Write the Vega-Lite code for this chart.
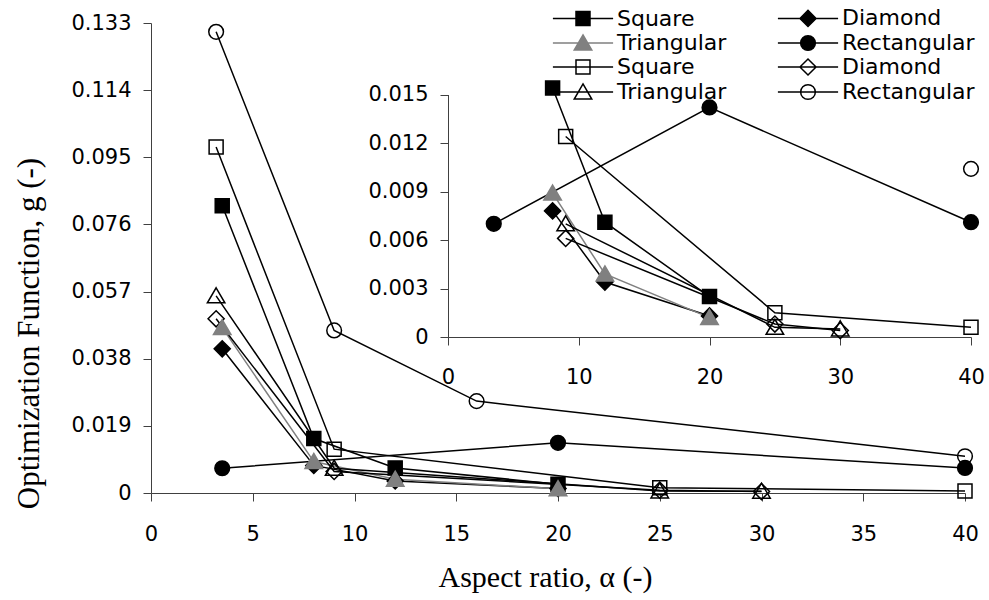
{
  "$schema": "https://vega.github.io/schema/vega-lite/v6.json",
  "width": 814,
  "height": 470,
  "autosize": {"type": "none"},
  "padding": {"left": 151, "top": 23, "right": 24, "bottom": 107},
  "background": "white",
  "config": {
    "view": {"stroke": null},
    "axis": {
      "grid": false,
      "domainColor": "#404040",
      "tickColor": "#404040",
      "tickSize": 8,
      "domainWidth": 1,
      "tickWidth": 1,
      "labelFont": "DejaVu Sans",
      "labelFontSize": 21,
      "labelColor": "black",
      "titleFont": "Liberation Serif",
      "titleFontWeight": "normal",
      "titleColor": "black",
      "labelOverlap": false,
      "labelFlush": false,
      "labelBound": false
    }
  },
  "data": {
    "values": [
      {"s": "fSquare", "a": 3.5, "g": 0.0813},
      {"s": "fSquare", "a": 8, "g": 0.0154},
      {"s": "fSquare", "a": 12, "g": 0.0071},
      {"s": "fSquare", "a": 20, "g": 0.0025},
      {"s": "fDiamond", "a": 3.5, "g": 0.0408},
      {"s": "fDiamond", "a": 8, "g": 0.0078},
      {"s": "fDiamond", "a": 12, "g": 0.0034},
      {"s": "fDiamond", "a": 20, "g": 0.0013},
      {"s": "fTriangular", "a": 3.5, "g": 0.0468},
      {"s": "fTriangular", "a": 8, "g": 0.0089},
      {"s": "fTriangular", "a": 12, "g": 0.0039},
      {"s": "fTriangular", "a": 20, "g": 0.0012},
      {"s": "fRectangular", "a": 3.5, "g": 0.0070},
      {"s": "fRectangular", "a": 20, "g": 0.0142},
      {"s": "fRectangular", "a": 40, "g": 0.0071},
      {"s": "oSquare", "a": 3.2, "g": 0.0979},
      {"s": "oSquare", "a": 9, "g": 0.0124},
      {"s": "oSquare", "a": 25, "g": 0.0015},
      {"s": "oSquare", "a": 40, "g": 0.0006},
      {"s": "oDiamond", "a": 3.2, "g": 0.0493},
      {"s": "oDiamond", "a": 9, "g": 0.0061},
      {"s": "oDiamond", "a": 25, "g": 0.0008},
      {"s": "oDiamond", "a": 30, "g": 0.0004},
      {"s": "oTriangular", "a": 3.2, "g": 0.0558},
      {"s": "oTriangular", "a": 9, "g": 0.0070},
      {"s": "oTriangular", "a": 25, "g": 0.0006},
      {"s": "oTriangular", "a": 30, "g": 0.0005},
      {"s": "oRectangular", "a": 3.2, "g": 0.1305},
      {"s": "oRectangular", "a": 9, "g": 0.0460},
      {"s": "oRectangular", "a": 16, "g": 0.0260},
      {"s": "oRectangular", "a": 40, "g": 0.0104}
    ]
  },
  "layer": [
    {
      "encoding": {
        "x": {
          "field": "a", "type": "quantitative",
          "scale": {"domain": [0, 40], "nice": false, "zero": false},
          "axis": {"orient": "bottom", "values": [0, 5, 10, 15, 20, 25, 30, 35, 40], "labelPadding": 22, "title": "Aspect ratio, α (-)", "titleFontSize": 30, "titlePadding": 18, "titleX": 394}
        },
        "y": {
          "field": "g", "type": "quantitative",
          "scale": {"domain": [0, 0.133], "nice": false, "zero": false},
          "axis": {"orient": "left", "values": [0, 0.019, 0.038, 0.057, 0.076, 0.095, 0.114, 0.133], "format": ".3~f", "labelPadding": 12, "title": "Optimization Function, g (-)", "titleFontSize": 31, "titlePadding": 25, "titleY": 310}
        }
      },
      "layer": [
        {
          "mark": {"type": "line", "strokeWidth": 1.5},
          "encoding": {
            "detail": {"field": "s", "type": "nominal"},
            "stroke": {"field": "s", "type": "nominal", "scale": {"domain": ["fSquare", "fDiamond", "fTriangular", "fRectangular", "oSquare", "oDiamond", "oTriangular", "oRectangular"], "range": ["black", "black", "#808080", "black", "black", "black", "black", "black"]}}
          }
        },
        {
          "transform": [{"filter": {"field": "s", "oneOf": ["fSquare", "oSquare"]}}],
          "mark": {"type": "point", "shape": "M-1,-1H1V1H-1Z", "size": 196, "strokeWidth": 1.5, "opacity": 1},
          "encoding": {
            "fill": {"field": "s", "type": "nominal", "scale": {"domain": ["fSquare", "fDiamond", "fTriangular", "fRectangular", "oSquare", "oDiamond", "oTriangular", "oRectangular"], "range": ["black", "black", "#808080", "black", "transparent", "transparent", "transparent", "transparent"]}},
            "stroke": {"field": "s", "type": "nominal"}
          }
        },
        {
          "transform": [{"filter": {"field": "s", "oneOf": ["fDiamond", "oDiamond"]}}],
          "mark": {"type": "point", "shape": "M-1.15,0L0,-1.15L1.15,0L0,1.15Z", "size": 196, "strokeWidth": 1.5, "opacity": 1},
          "encoding": {
            "fill": {"field": "s", "type": "nominal"},
            "stroke": {"field": "s", "type": "nominal"}
          }
        },
        {
          "transform": [{"filter": {"field": "s", "oneOf": ["fTriangular", "oTriangular"]}}],
          "mark": {"type": "point", "shape": "M0,-1.15L1.25,1L-1.25,1Z", "size": 196, "strokeWidth": 1.5, "opacity": 1},
          "encoding": {
            "fill": {"field": "s", "type": "nominal"},
            "stroke": {"field": "s", "type": "nominal"}
          }
        },
        {
          "transform": [{"filter": {"field": "s", "oneOf": ["fRectangular", "oRectangular"]}}],
          "mark": {"type": "point", "shape": "M-1.05,0A1.05,1.05 0 1,0 1.05,0A1.05,1.05 0 1,0 -1.05,0Z", "size": 196, "strokeWidth": 1.5, "opacity": 1},
          "encoding": {
            "fill": {"field": "s", "type": "nominal"},
            "stroke": {"field": "s", "type": "nominal"}
          }
        },
        {
          "mark": {"type": "point", "size": 196, "strokeWidth": 1.5, "opacity": 0},
          "encoding": {
            "shape": {
              "field": "s", "type": "nominal",
              "scale": {"domain": ["fSquare", "fDiamond", "fTriangular", "fRectangular", "oSquare", "oDiamond", "oTriangular", "oRectangular"],
                "range": ["M-4.3,0H4.3M-1,-1H1V1H-1Z", "M-4.3,0H4.3M-1.15,0L0,-1.15L1.15,0L0,1.15Z", "M-4.3,0H4.3M0,-1.15L1.25,1L-1.25,1Z", "M-4.3,0H4.3M-1.05,0A1.05,1.05 0 1,0 1.05,0A1.05,1.05 0 1,0 -1.05,0Z", "M-4.3,0H4.3M-1,-1H1V1H-1Z", "M-4.3,0H4.3M-1.15,0L0,-1.15L1.15,0L0,1.15Z", "M-4.3,0H4.3M0,-1.15L1.25,1L-1.25,1Z", "M-4.3,0H4.3M-1.05,0A1.05,1.05 0 1,0 1.05,0A1.05,1.05 0 1,0 -1.05,0Z"]},
              "legend": {
                "title": null,
                "orient": "none",
                "direction": "horizontal",
                "legendX": 399,
                "legendY": -16,
                "columns": 2,
                "columnPadding": 47,
                "rowPadding": 1,
                "padding": 0,
                "symbolSize": 196,
                "symbolStrokeWidth": 1.5,
                "symbolOpacity": 1,
                "symbolOffset": 22,
                "labelOffset": 23,
                "labelFont": "DejaVu Sans",
                "labelFontSize": 22,
                "labelColor": "black",
                "labelExpr": "slice(datum.label, 1)"
              }
            },
            "fill": {"field": "s", "type": "nominal"},
            "stroke": {"field": "s", "type": "nominal"}
          }
        }
      ]
    },
    {
      "transform": [{"filter": "datum.g <= 0.016"}],
      "encoding": {
        "x": {
          "field": "a", "type": "quantitative",
          "scale": {"domain": [0, 40], "range": [297, 820], "nice": false, "zero": false},
          "axis": {"orient": "bottom", "offset": -156, "values": [0, 10, 20, 30, 40], "labelPadding": 21, "title": null}
        },
        "y": {
          "field": "g", "type": "quantitative",
          "scale": {"domain": [0, 0.015], "range": [314, 71.5], "nice": false, "zero": false},
          "axis": {"orient": "left", "offset": -297, "values": [0, 0.003, 0.006, 0.009, 0.012, 0.015], "format": ".3~f", "labelPadding": 12, "title": null}
        }
      },
      "layer": [
        {
          "mark": {"type": "line", "strokeWidth": 1.5},
          "encoding": {
            "detail": {"field": "s", "type": "nominal"},
            "stroke": {"field": "s", "type": "nominal"}
          }
        },
        {
          "transform": [{"filter": {"field": "s", "oneOf": ["fSquare", "oSquare"]}}],
          "mark": {"type": "point", "shape": "M-1,-1H1V1H-1Z", "size": 196, "strokeWidth": 1.5, "opacity": 1},
          "encoding": {
            "fill": {"field": "s", "type": "nominal"},
            "stroke": {"field": "s", "type": "nominal"}
          }
        },
        {
          "transform": [{"filter": {"field": "s", "oneOf": ["fDiamond", "oDiamond"]}}],
          "mark": {"type": "point", "shape": "M-1.15,0L0,-1.15L1.15,0L0,1.15Z", "size": 196, "strokeWidth": 1.5, "opacity": 1},
          "encoding": {
            "fill": {"field": "s", "type": "nominal"},
            "stroke": {"field": "s", "type": "nominal"}
          }
        },
        {
          "transform": [{"filter": {"field": "s", "oneOf": ["fTriangular", "oTriangular"]}}],
          "mark": {"type": "point", "shape": "M0,-1.15L1.25,1L-1.25,1Z", "size": 196, "strokeWidth": 1.5, "opacity": 1},
          "encoding": {
            "fill": {"field": "s", "type": "nominal"},
            "stroke": {"field": "s", "type": "nominal"}
          }
        },
        {
          "transform": [{"filter": {"field": "s", "oneOf": ["fRectangular", "oRectangular"]}}],
          "mark": {"type": "point", "shape": "M-1.05,0A1.05,1.05 0 1,0 1.05,0A1.05,1.05 0 1,0 -1.05,0Z", "size": 196, "strokeWidth": 1.5, "opacity": 1},
          "encoding": {
            "fill": {"field": "s", "type": "nominal"},
            "stroke": {"field": "s", "type": "nominal"}
          }
        }
      ]
    }
  ],
  "resolve": {
    "scale": {"x": "independent", "y": "independent"},
    "axis": {"x": "independent", "y": "independent"}
  }
}
